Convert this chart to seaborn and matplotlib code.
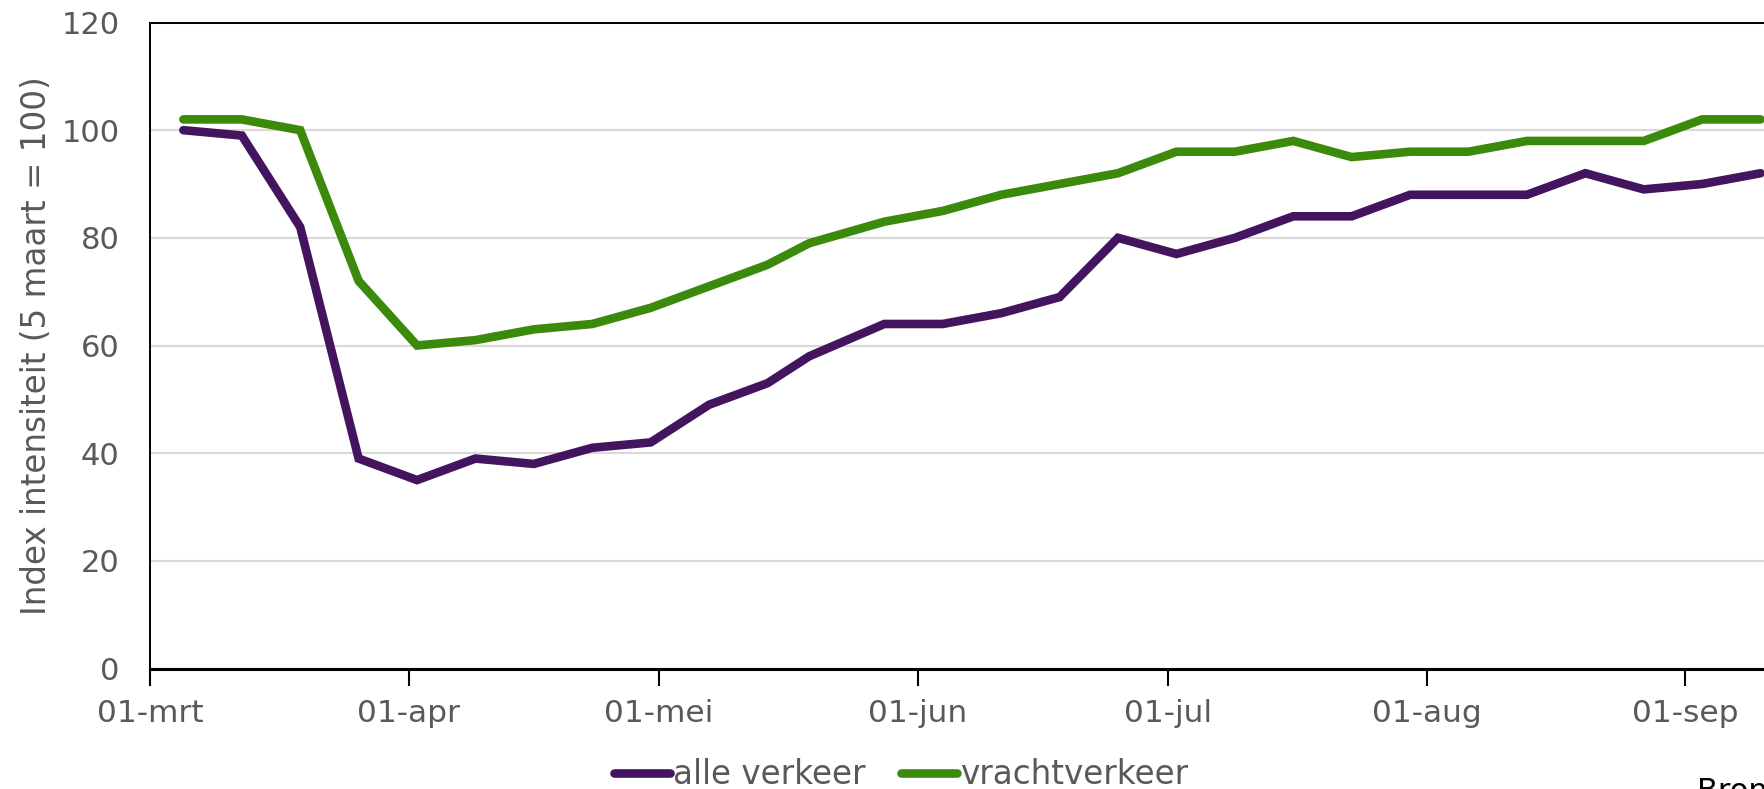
import pandas as pd
import matplotlib.pyplot as plt
import seaborn as sns

# weekly measurements (19-mei instead of 21-mei: Hemelvaart)
dates = ['2020-03-05', '2020-03-12', '2020-03-19', '2020-03-26', '2020-04-02',
         '2020-04-09', '2020-04-16', '2020-04-23', '2020-04-30', '2020-05-07',
         '2020-05-14', '2020-05-19', '2020-05-28', '2020-06-04', '2020-06-11',
         '2020-06-18', '2020-06-25', '2020-07-02', '2020-07-09', '2020-07-16',
         '2020-07-23', '2020-07-30', '2020-08-06', '2020-08-13', '2020-08-20',
         '2020-08-27', '2020-09-03', '2020-09-10']
alle_verkeer = [100, 99, 82, 39, 35, 39, 38, 41, 42, 49, 53, 58, 64, 64, 66,
                69, 80, 77, 80, 84, 84, 88, 88, 88, 92, 89, 90, 92]
vrachtverkeer = [102, 102, 100, 72, 60, 61, 63, 64, 67, 71, 75, 79, 83, 85, 88,
                 90, 92, 96, 96, 98, 95, 96, 96, 98, 98, 98, 102, 102]

month_ticks = ['2020-03-01', '2020-04-01', '2020-05-01', '2020-06-01',
               '2020-07-01', '2020-08-01', '2020-09-01']
month_labels = ['01-mrt', '01-apr', '01-mei', '01-jun', '01-jul', '01-aug', '01-sep']
y_ticks = [0, 20, 40, 60, 80, 100, 120]

series_names = ['alle verkeer', 'vrachtverkeer']
colors = ['#44155f', '#3b8a0c']

df = pd.DataFrame({'datum': pd.to_datetime(dates),
                   'alle verkeer': alle_verkeer,
                   'vrachtverkeer': vrachtverkeer})
long = df.melt(id_vars='datum', var_name='reeks', value_name='index')

sns.set_theme(style='white')
plt.rcParams['font.family'] = ['DejaVu Sans']
grey = '#595959'

W, H = 1765, 789
fig = plt.figure(figsize=(W / 100, H / 100), dpi=100)

# x scale: ~8.35 px per day, the plot runs past the right edge (cropped original)
x0 = pd.Timestamp('2020-03-01')
x1 = pd.Timestamp('2020-09-17')
px_per_day = 8.345
left_px, top_px, bottom_px = 150, 22.5, 668.5
ax = fig.add_axes([left_px / W, 1 - bottom_px / H,
                   (x1 - x0).days * px_per_day / W, (bottom_px - top_px) / H])

sns.lineplot(data=long, x='datum', y='index', hue='reeks', hue_order=series_names,
             palette=colors, linewidth=6.2, ax=ax, legend=True)
for line in ax.get_lines():
    line.set_solid_capstyle('round')
    line.set_solid_joinstyle('miter')

ax.set_xlim(x0, x1)
ax.set_ylim(0, 120)
ax.set_yticks(y_ticks)
ax.set_xticks(pd.to_datetime(month_ticks))
ax.set_xticklabels(month_labels)

ax.grid(axis='y', color='#d9d9d9', linewidth=1.5)
ax.grid(axis='x', visible=False)
for side in ['left', 'top', 'right']:
    ax.spines[side].set_color('#000000')
    ax.spines[side].set_linewidth(1.4)
ax.spines['bottom'].set_color('#000000')
ax.spines['bottom'].set_linewidth(2.2)

ax.tick_params(axis='y', length=0, pad=22, labelsize=22, labelcolor=grey)
ax.tick_params(axis='x', bottom=True, direction='out', length=12, width=1.5,
               color='#000000', pad=10, labelsize=22.5, labelcolor=grey)

ax.set_xlabel('')
ax.set_ylabel('Index intensiteit (5 maart = 100)', fontsize=23.5, color=grey, labelpad=6)

handles, labels = ax.get_legend_handles_labels()
ax.legend_.remove()
fig.legend(handles, labels, loc='center', bbox_to_anchor=(0.5106, 0.018),
           bbox_transform=fig.transFigure, ncol=2, frameon=False, fontsize=23.5,
           labelcolor=grey, handlelength=1.7, handletextpad=0.1,
           columnspacing=1.1, borderpad=0)

fig.text(1697 / W, 1 - 777 / H, 'Bron: CBS, RWS', ha='left', va='top',
         fontsize=22, color='#000000')

fig.savefig('out.png', dpi=100)
